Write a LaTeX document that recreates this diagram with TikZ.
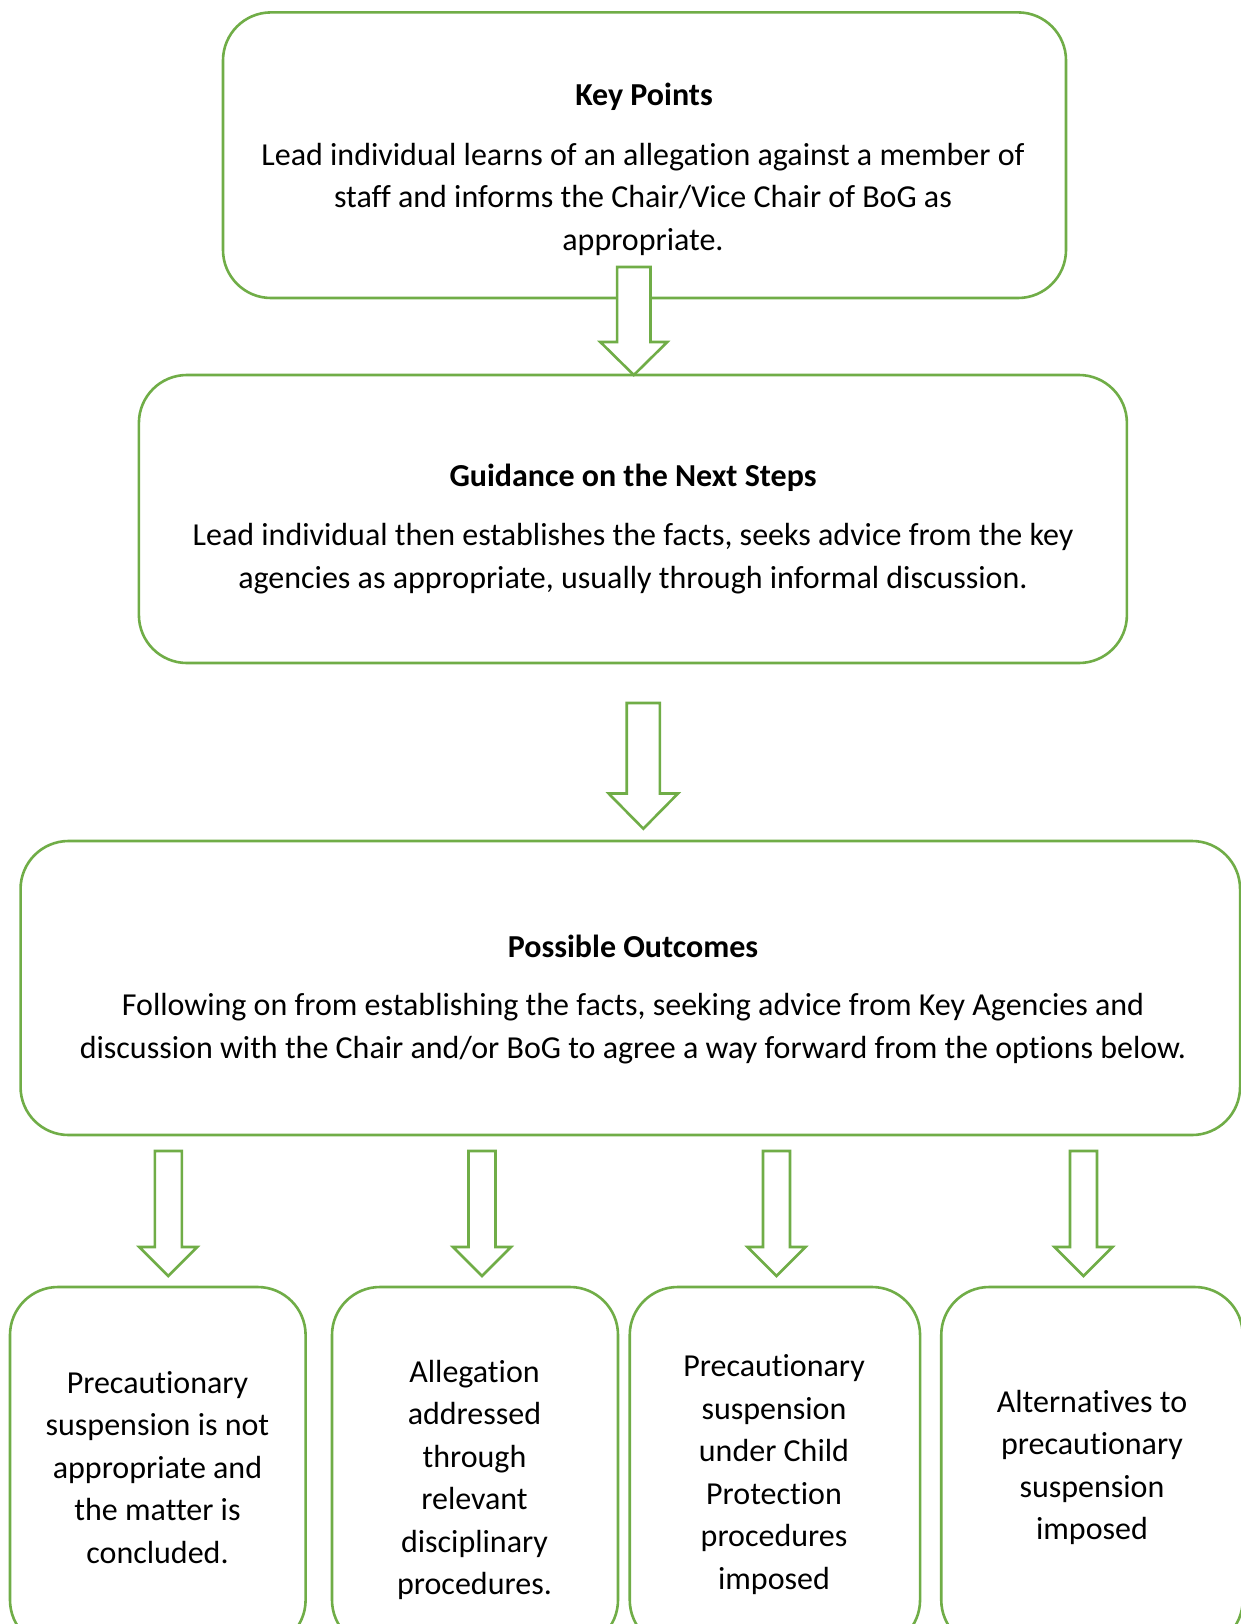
\documentclass[tikz,border=0pt]{standalone}
\usepackage{fontspec}
\setmainfont{Carlito}[Ligatures=NoCommon]
\definecolor{boxgreen}{RGB}{112,173,71}
\newcommand\flowarrow[6]{%
  \draw[arrowline] ({#1-#5},{#2}) -- ({#1+#5},{#2}) -- ({#1+#5},{#3}) -- ({#1+#6},{#3}) -- ({#1},{#4}) -- ({#1-#6},{#3}) -- ({#1-#5},{#3}) -- cycle;}
\tikzset{
  box/.style={draw=boxgreen, line width=2.6pt, rounded corners=48pt, fill=white, inner sep=0pt, outer sep=0pt},
  arrowline/.style={draw=boxgreen, line width=2.6pt, fill=white, line join=miter},
  txt/.style={align=center, font=\fontsize{32}{42.5}\selectfont, inner sep=0pt},
  ttl/.style={txt, font=\fontsize{32}{42.5}\selectfont\bfseries}
}
\begin{document}
\begin{tikzpicture}[x=1pt,y=-1pt]
\useasboundingbox (0,0) rectangle (1241,1624);
\clip (0,0) rectangle (1241,1624);
\fill[white] (0,0) rectangle (1241,1624);
% boxes
\node[box, minimum width=843pt, minimum height=285.6pt] (kp) at (644.5,155.2) {};
\node[box, minimum width=988pt, minimum height=288pt] (gd) at (632.9,519) {};
\node[box, minimum width=1219.5pt, minimum height=294pt] (po) at (630.3,988) {};
\node[box, minimum width=295.6pt, minimum height=361pt] (b1) at (157.8,1467.5) {};
\node[box, minimum width=286pt, minimum height=361pt] (b2) at (475,1467.5) {};
\node[box, minimum width=290.3pt, minimum height=361pt] (b3) at (774.9,1467.5) {};
\node[box, minimum width=301.5pt, minimum height=361pt] (b4) at (1092,1467.5) {};
% arrows
\flowarrow{633.8}{267}{342}{375}{16.7}{33.5}
\flowarrow{643.3}{703}{793.5}{828.7}{16.6}{34.7}
\flowarrow{168.3}{1151}{1247}{1276}{13.5}{29}
\flowarrow{482}{1151}{1247}{1276}{13.5}{29}
\flowarrow{776.5}{1151}{1247}{1276}{13.5}{29}
\flowarrow{1083.5}{1151}{1247}{1276}{13.5}{29}
% texts
\node[ttl] (kpt) at (644,96.5) {Key Points};
\node[txt] (kpb) at (643,199) {Lead individual learns of an allegation against a member of\\staff and informs the Chair/Vice Chair of BoG as\\appropriate.};
\node[ttl] (gdt) at (633,477.5) {Guidance on the Next Steps};
\node[txt] (gdb) at (633,558.5) {Lead individual then establishes the facts, seeks advice from the key\\agencies as appropriate, usually through informal discussion.};
\node[ttl] (pot) at (633,946.8) {Possible Outcomes};
\node[txt] (pob) at (633,1028.5) {Following on from establishing the facts, seeking advice from Key Agencies and\\discussion with the Chair and/or BoG to agree a way forward from the options below.};
\node[txt] (b1t) at (157.5,1467.5) {Precautionary\\suspension is not\\appropriate and\\the matter is\\concluded.};
\node[txt] (b2t) at (474.5,1480) {Allegation\\addressed\\through\\relevant\\disciplinary\\procedures.};
\node[txt] (b3t) at (774,1474.5) {Precautionary\\suspension\\under Child\\Protection\\procedures\\imposed};
\node[txt] (b4t) at (1092,1467.5) {Alternatives to\\precautionary\\suspension\\imposed};
\end{tikzpicture}
\end{document}
